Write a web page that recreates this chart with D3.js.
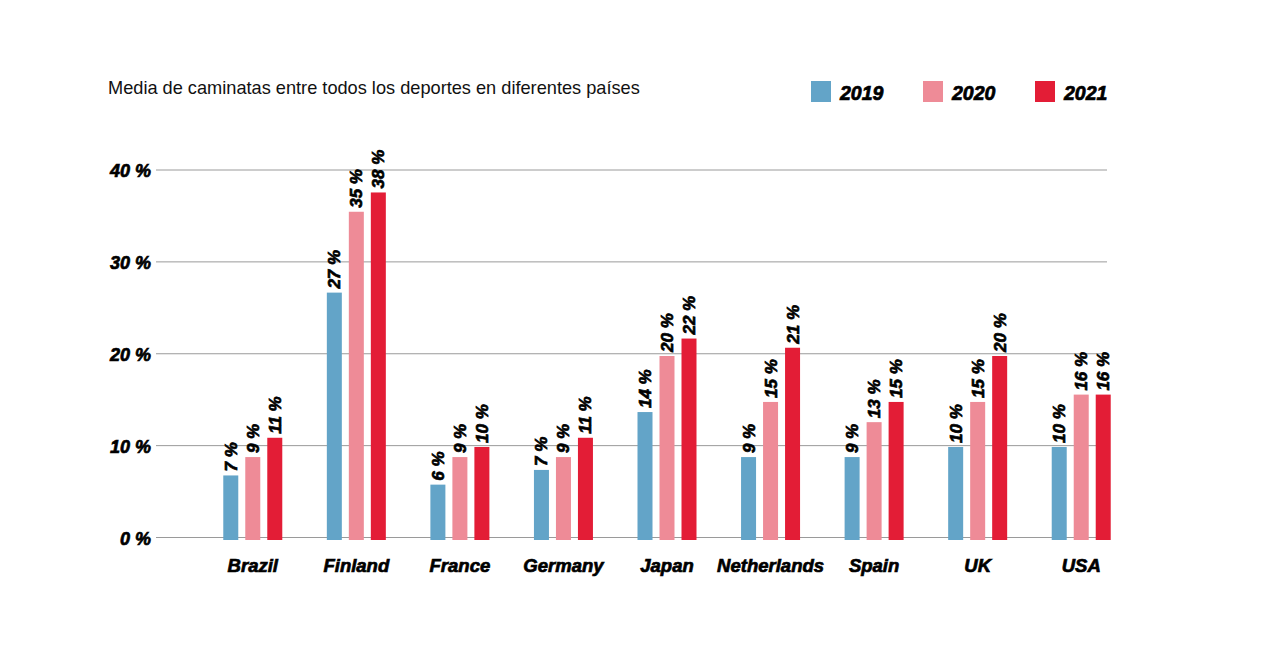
<!DOCTYPE html>
<html>
<head>
<meta charset="utf-8">
<script src="https://cdn.jsdelivr.net/npm/d3@7"></script>
<style>
  html, body { margin: 0; padding: 0; background: #fff; }
  svg { display: block; }
  .heavy { font-family: "Liberation Sans", Arial, sans-serif; font-weight: 700; font-style: italic; fill: #000; stroke: #000; stroke-width: 0.7px; }
  .title { font-family: "Liberation Sans", Arial, sans-serif; font-weight: 400; fill: #111; }
</style>
</head>
<body>
<svg id="chart" width="1280" height="672"></svg>
<script>
const title = "Media de caminatas entre todos los deportes en diferentes países";
const countries = ["Brazil", "Finland", "France", "Germany", "Japan", "Netherlands", "Spain", "UK", "USA"];
const years = ["2019", "2020", "2021"];
const values2019 = [6.7, 26.6, 5.7, 7.3, 13.6, 8.7, 8.7, 9.8, 9.8];
const values2020 = [8.7, 35.4, 8.7, 8.7, 19.7, 14.7, 12.5, 14.7, 15.5];
const values2021 = [10.8, 37.5, 9.8, 10.8, 21.6, 20.6, 14.7, 19.7, 15.5];
const yTicks = [0, 10, 20, 30, 40];
const colors = ["#63a4c8", "#ee8b97", "#e31d36"];

const series = [values2019, values2020, values2021];
const svg = d3.select("#chart");

const x0 = d3.scaleBand().domain(countries).range([201, 1133]).paddingInner(0).paddingOuter(0);
const x1 = d3.scaleBand().domain(years).range([-29.5, 29.5]).paddingInner(7 / 22).paddingOuter(0);
const y = d3.scaleLinear().domain([0, 40]).range([537, 169.5]);
const color = d3.scaleOrdinal().domain(years).range(colors);

// Title
svg.append("text").attr("class", "title")
  .attr("x", 108).attr("y", 94)
  .style("font-size", "18.2px")
  .text(title);

// Legend
const legendX = d3.scalePoint().domain(years).range([811, 1035]);
const lg = svg.append("g").selectAll("g").data(years).join("g")
  .attr("transform", d => `translate(${legendX(d)},81)`);
lg.append("rect").attr("width", 20).attr("height", 21).attr("fill", d => color(d));
lg.append("text").attr("class", "heavy")
  .attr("x", 29).attr("y", 19)
  .style("font-size", "19.5px")
  .text(d => d);

// Gridlines
const grid = svg.append("g").attr("transform", "translate(156,0)")
  .call(d3.axisRight(y).tickValues(yTicks).tickSize(951).tickFormat(""));
grid.select(".domain").remove();
grid.selectAll(".tick line").attr("stroke", "#9a9a9a").attr("stroke-width", 1);

// Y labels
const yl = svg.append("g").attr("transform", "translate(151,0)")
  .call(d3.axisLeft(y).tickValues(yTicks).tickSize(0).tickPadding(0).tickFormat(d => `${d} %`));
yl.select(".domain").remove();
yl.selectAll(".tick text")
  .attr("class", "heavy")
  .attr("dy", "0.36em")
  .attr("y", 1)
  .style("font-size", "18px")
  .attr("fill", "#000");

// Bars
const groups = svg.append("g").selectAll("g").data(countries).join("g")
  .attr("transform", d => `translate(${x0(d) + x0.bandwidth() / 2},0)`);

const rows = (c, i) => years.map((yr, k) => ({ year: yr, value: series[k][i] }));

groups.selectAll("rect").data(rows).join("rect")
  .attr("x", d => x1(d.year))
  .attr("width", x1.bandwidth())
  .attr("y", d => y(d.value))
  .attr("height", d => y(0) + 3 - y(d.value))
  .attr("fill", d => color(d.year));

groups.selectAll("text.val").data(rows).join("text")
  .attr("class", "val heavy")
  .attr("transform", d => `translate(${x1(d.year) + x1.bandwidth() / 2 + 6},${y(d.value) - 4}) rotate(-90)`)
  .style("font-size", "17px")
  .text(d => `${Math.round(d.value)} %`);

// Country labels
const xl = svg.append("g").attr("transform", "translate(0,559)")
  .call(d3.axisBottom(x0).tickSize(0).tickPadding(0));
xl.select(".domain").remove();
xl.selectAll(".tick text")
  .attr("class", "heavy")
  .attr("dy", "0.72em")
  .attr("y", 0)
  .style("font-size", "18.5px")
  .attr("fill", "#000");
</script>
</body>
</html>
